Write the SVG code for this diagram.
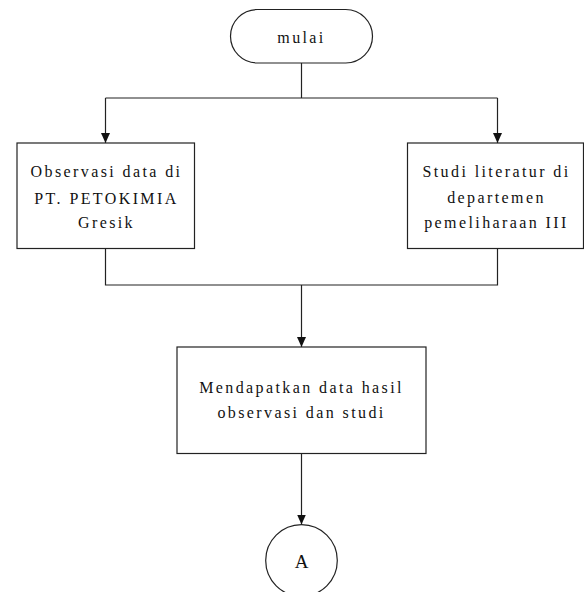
<svg xmlns="http://www.w3.org/2000/svg" width="584" height="592" viewBox="0 0 584 592">
<style>
.s{fill:#fff;stroke:#222;stroke-width:1.2}
.c{fill:none;stroke:#222;stroke-width:1.2}
text{font-family:"Liberation Serif","Times New Roman",serif;font-size:16px;fill:#111;text-anchor:middle;letter-spacing:2.4px}
</style>
<defs>
<marker id="ah" markerWidth="10" markerHeight="10" refX="10" refY="5" orient="auto" markerUnits="userSpaceOnUse">
<path d="M0,0.5 L10,5 L0,9.5 Z" fill="#111"/>
</marker>
</defs>
<rect width="584" height="592" fill="#fff"/>
<g id="connectors">
<path class="c" d="M301.5,63 V98"/>
<path class="c" d="M105.5,98 H497.5"/>
<path class="c" d="M105.5,98 V143" marker-end="url(#ah)"/>
<path class="c" d="M497.5,98 V143" marker-end="url(#ah)"/>
<path class="c" d="M105.5,248 V285 H497.5 V248"/>
<path class="c" d="M301.5,285 V347" marker-end="url(#ah)"/>
<path class="c" d="M301.5,453.5 V524.5" marker-end="url(#ah)"/>
</g>
<g id="mulai">
<rect class="s" x="230.5" y="9.5" width="142" height="53.5" rx="26.75"/>
<text x="301.5" y="43">mulai</text>
</g>
<g id="observasi">
<rect class="s" x="17" y="143" width="177.5" height="105.5"/>
<text x="106.5" y="177">Observasi data di</text>
<text x="106.5" y="204">PT. PETOKIMIA</text>
<text x="106.5" y="228">Gresik</text>
</g>
<g id="studi">
<rect class="s" x="407.5" y="143" width="176" height="105.5"/>
<text x="496.5" y="177">Studi literatur di</text>
<text x="496.5" y="203">departemen</text>
<text x="496.5" y="228">pemeliharaan III</text>
</g>
<g id="mendapatkan">
<rect class="s" x="177" y="347" width="249" height="106.5"/>
<text x="301.5" y="393">Mendapatkan data hasil</text>
<text x="301.5" y="418">observasi dan studi</text>
</g>
<g id="A">
<circle class="s" cx="301.5" cy="560.5" r="35.8"/>
<text x="301.5" y="568" style="font-size:19px;letter-spacing:0">A</text>
</g>
</svg>
